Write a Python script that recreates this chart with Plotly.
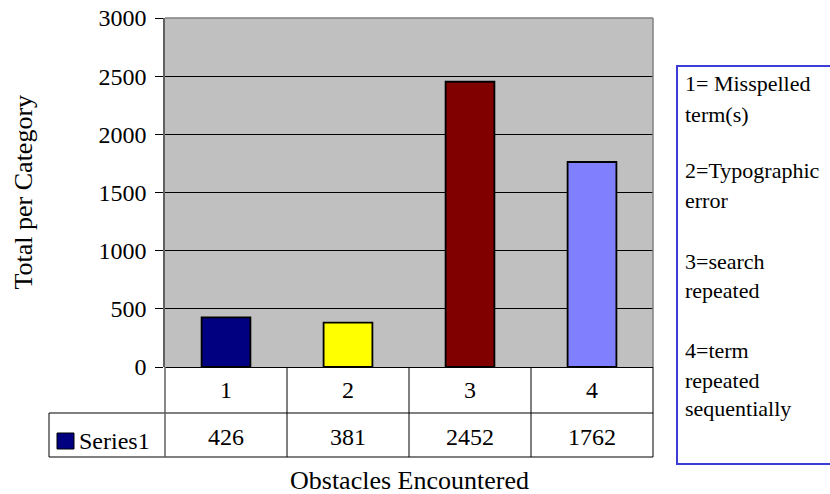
import plotly.graph_objects as go

# Chart data
categories = ["1", "2", "3", "4"]
series_name = "Series1"
values = [426, 381, 2452, 1762]
bar_colors = ["#000080", "#ffff00", "#800000", "#8080ff"]
y_ticks = [0, 500, 1000, 1500, 2000, 2500, 3000]
legend_lines = [
    "1= Misspelled", "term(s)",
    "2=Typographic", "error",
    "3=search", "repeated",
    "4=term", "repeated", "sequentially",
]

W, H = 830, 494
ML, MR, MT, MB = 165, 177, 18, 127
PW, PH = W - ML - MR, H - MT - MB
FONT = "Liberation Serif"

n = len(categories)
x_idx = list(range(1, n + 1))
x_range = [0.5, n + 0.5]


def px_x(px):
    return (px - ML) / PW


def px_y(py):
    return (H - MB - py) / PH


def data_x(xv):
    return (xv - x_range[0]) / (x_range[1] - x_range[0])


def txt_font(size=24):
    return dict(family=FONT, size=size, color="black")


fig = go.Figure()
fig.add_trace(go.Bar(
    x=x_idx, y=values, width=0.4,
    marker=dict(color=bar_colors, line=dict(color="black", width=1.8)),
    name=series_name, showlegend=False,
))

shapes = []
annotations = []
line_k = dict(color="black", width=1)

# data table under the plot
row1_bot = px_y(413)
row2_bot = px_y(457)
table_left = px_x(49)
shapes.append(dict(type="line", xref="paper", yref="paper", x0=table_left, x1=1,
                   y0=row1_bot, y1=row1_bot, line=line_k))
shapes.append(dict(type="line", xref="paper", yref="paper", x0=table_left, x1=1,
                   y0=row2_bot, y1=row2_bot, line=line_k))
shapes.append(dict(type="line", xref="paper", yref="paper", x0=table_left, x1=table_left,
                   y0=row1_bot, y1=row2_bot, line=line_k))
shapes.append(dict(type="line", xref="paper", yref="paper", x0=0, x1=0,
                   y0=0, y1=row2_bot, line=dict(color="#606060", width=1.5)))
for i in range(n):
    xb = data_x(x_idx[i] + 0.5)
    shapes.append(dict(type="line", xref="paper", yref="paper", x0=xb, x1=xb,
                       y0=0, y1=row2_bot, line=line_k))
    xc = data_x(x_idx[i])
    annotations.append(dict(text=categories[i], xref="paper", yref="paper",
                            x=xc, y=px_y(390), showarrow=False, font=txt_font(),
                            xanchor="center", yanchor="middle"))
    annotations.append(dict(text=str(values[i]), xref="paper", yref="paper",
                            x=xc, y=px_y(437), showarrow=False, font=txt_font(),
                            xanchor="center", yanchor="middle"))

# series key in the table
shapes.append(dict(type="rect", xref="paper", yref="paper",
                   x0=px_x(57), x1=px_x(74), y0=px_y(449), y1=px_y(433),
                   fillcolor=bar_colors[0], line=dict(color="black", width=1)))
annotations.append(dict(text=series_name, xref="paper", yref="paper",
                        x=px_x(77), y=px_y(441), showarrow=False, font=txt_font(),
                        xanchor="left", yanchor="middle"))

# plot frame top/right
shapes.append(dict(type="line", xref="paper", yref="paper", x0=0, x1=1, y0=1, y1=1,
                   line=dict(color="#808080", width=1.5)))
shapes.append(dict(type="line", xref="paper", yref="paper", x0=1, x1=1, y0=0, y1=1,
                   line=dict(color="#808080", width=1.5)))

# text key box on the right
shapes.append(dict(type="rect", xref="paper", yref="paper",
                   x0=px_x(677), x1=px_x(832), y0=px_y(464), y1=px_y(66),
                   line=dict(color="#3c3cd8", width=2), fillcolor="white"))
line_centers = [84, 114, 170, 200, 261, 290, 350, 380, 408]
for txt, cy in zip(legend_lines, line_centers):
    annotations.append(dict(text=txt, xref="paper", yref="paper",
                            x=px_x(683), y=px_y(cy), showarrow=False,
                            font=txt_font(22), xanchor="left", yanchor="middle"))

# axis titles
annotations.append(dict(text="Total per Category", xref="paper", yref="paper",
                        x=px_x(23), y=0.5, showarrow=False, textangle=-90,
                        font=txt_font(26), xanchor="center", yanchor="middle"))
annotations.append(dict(text="Obstacles Encountered", xref="paper", yref="paper",
                        x=0.5, y=px_y(480), showarrow=False, font=txt_font(26),
                        xanchor="center", yanchor="middle"))

fig.update_layout(
    width=W, height=H,
    margin=dict(l=ML, r=MR, t=MT, b=MB, pad=0, autoexpand=False),
    paper_bgcolor="white", plot_bgcolor="#c0c0c0",
    font=txt_font(),
    shapes=shapes, annotations=annotations,
    xaxis=dict(range=x_range, showticklabels=False, ticks="", showgrid=False,
               zeroline=False, showline=False, fixedrange=True, automargin=False),
    yaxis=dict(range=[0, 3000], tickvals=y_ticks, ticks="outside", ticklen=8,
               tickcolor="black", tickwidth=1, showgrid=True, gridcolor="black",
               gridwidth=1, zeroline=True, zerolinecolor="black", zerolinewidth=1,
               showline=True, linecolor="#606060", linewidth=1.5,
               tickfont=txt_font(), automargin=False,
               ticklabelstandoff=4, fixedrange=True),
    showlegend=False,
)

fig.write_html("out.html")
